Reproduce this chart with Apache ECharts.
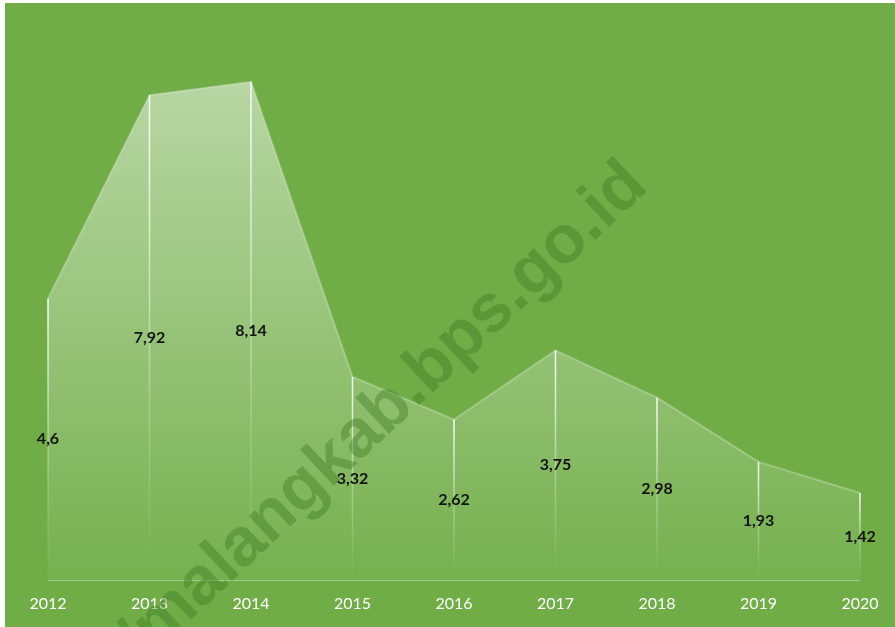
<!DOCTYPE html>
<html>
<head>
<meta charset="utf-8">
<script src="https://cdn.jsdelivr.net/npm/echarts@6/dist/echarts.min.js"></script>
<style>
  html, body { margin: 0; padding: 0; background: #ffffff; }
  #chart { position: absolute; left: 5px; top: 3px; width: 890px; height: 624px; }
</style>
</head>
<body>
<div id="chart"></div>
<script>
const years = ['2012', '2013', '2014', '2015', '2016', '2017', '2018', '2019', '2020'];
const values = [4.6, 7.92, 8.14, 3.32, 2.62, 3.75, 2.98, 1.93, 1.42];
const watermark = 'https://malangkab.bps.go.id';

const chart = echarts.init(document.getElementById('chart'));

function fmt(v) {
  return String(v).replace('.', ',');
}

chart.setOption({
  backgroundColor: '#70ad47',
  animation: false,
  grid: { left: 43, right: 35, top: 26, bottom: 47 },
  xAxis: {
    type: 'category',
    data: years,
    boundaryGap: false,
    axisLine: { lineStyle: { color: 'rgba(255,255,255,0.35)', width: 1 } },
    axisTick: { show: false },
    axisLabel: {
      color: '#ffffff',
      fontFamily: 'Lato',
      fontSize: 16,
      margin: 16
    }
  },
  yAxis: {
    type: 'value',
    min: 0,
    max: 9,
    show: false,
    splitLine: { show: false }
  },
  series: [
    {
      type: 'line',
      data: values,
      symbol: 'none',
      z: 2,
      lineStyle: { color: 'rgba(255,255,255,0.25)', width: 2 },
      areaStyle: {
        color: new echarts.graphic.LinearGradient(0, 0, 0, 1, [
          { offset: 0, color: 'rgba(255,255,255,0.72)' },
          { offset: 1, color: 'rgba(255,255,255,0.06)' }
        ])
      }
    },
    {
      type: 'bar',
      data: values,
      barWidth: 1.5,
      z: 3,
      itemStyle: {
        color: new echarts.graphic.LinearGradient(0, 0, 0, 1, [
          { offset: 0, color: 'rgba(255,255,255,0.95)' },
          { offset: 0.55, color: 'rgba(255,255,255,0.3)' },
          { offset: 1, color: 'rgba(255,255,255,0.0)' }
        ])
      },
      label: {
        show: true,
        position: 'inside',
        color: '#141414',
        fontFamily: 'Lato',
        fontWeight: 'bold',
        fontSize: 16,
        formatter: (p) => fmt(p.value)
      }
    }
  ],
  graphic: [
    {
      type: 'text',
      x: 632,
      y: 172,
      rotation: 0.754,
      z: 10,
      silent: true,
      style: {
        text: watermark,
        fill: 'rgba(55,115,30,0.38)',
        font: 'bold 68px "Liberation Sans", Arial, sans-serif',
        align: 'right',
        verticalAlign: 'middle'
      }
    }
  ]
});
</script>
</body>
</html>
